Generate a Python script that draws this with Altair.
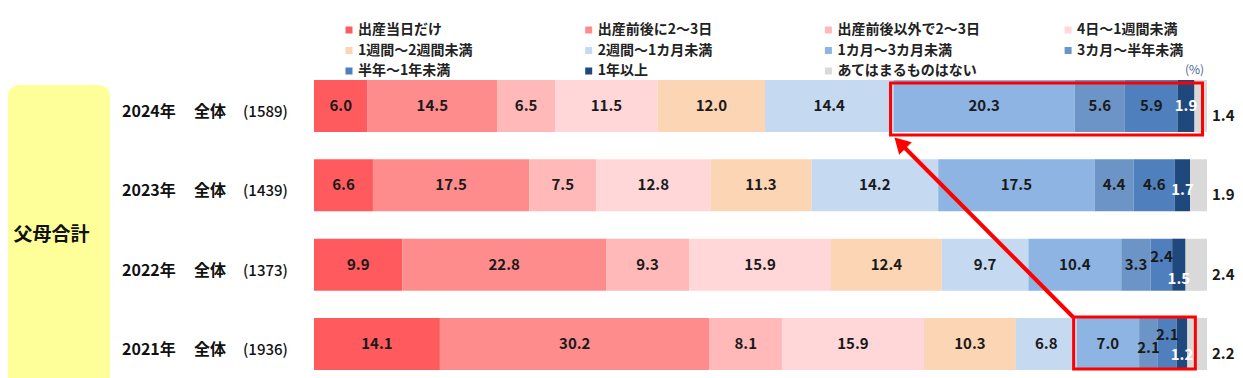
import altair as alt
import pandas as pd

# ---------------- data ----------------
categories = ["出産当日だけ", "出産前後に2～3日", "出産前後以外で2～3日", "4日～1週間未満",
              "1週間～2週間未満", "2週間～1カ月未満", "1カ月～3カ月未満", "3カ月～半年未満",
              "半年～1年未満", "1年以上", "あてはまるものはない"]
colors = ["#FF5B5E", "#FF8C8C", "#FFB9B9", "#FFD7D9", "#FCD5B4", "#C5D9F1",
          "#8DB4E2", "#6C94C6", "#4F7FBD", "#1F487C", "#D9D9D9"]
years = ["2024年", "2023年", "2022年", "2021年"]
sample_n = [1589, 1439, 1373, 1936]
v2024 = [6.0, 14.5, 6.5, 11.5, 12.0, 14.4, 20.3, 5.6, 5.9, 1.9, 1.4]
v2023 = [6.6, 17.5, 7.5, 12.8, 11.3, 14.2, 17.5, 4.4, 4.6, 1.7, 1.9]
v2022 = [9.9, 22.8, 9.3, 15.9, 12.4, 9.7, 10.4, 3.3, 2.4, 1.5, 2.4]
v2021 = [14.1, 30.2, 8.1, 15.9, 10.3, 6.8, 7.0, 2.1, 2.1, 1.2, 2.2]
group_label = "父母合計"
total_label = "全体"
unit_label = "(%)"

values = {"2024年": v2024, "2023年": v2023, "2022年": v2022, "2021年": v2021}

FONT = "Noto Sans CJK JP"
W, H = 1227, 370
X0, PPU = 306.0, 8.93          # plot px of 0 %, px per %
A = -X0 / PPU
B = A + W / PPU


def to_data(px):
    return A + px / PPU


# label vertical nudges (px) for crowded small segments
nudge = {("2023年", "1年以上"): 5, ("2022年", "半年～1年未満"): -8, ("2022年", "1年以上"): 14,
         ("2021年", "3カ月～半年未満"): 4, ("2021年", "半年～1年未満"): -9, ("2021年", "1年以上"): 11}

rows = []
for y in years:
    cum = 0.0
    for c, v in zip(categories, values[y]):
        rows.append(dict(year=y, cat=c, start=cum, end=cum + v, mid=cum + v / 2,
                         label=f"{v:.1f}", lc="#FFFFFF" if c == "1年以上" else "#1A1A1A",
                         dy=nudge.get((y, c), 0)))
        cum += v
df = pd.DataFrame(rows)

xs = alt.Scale(domain=[A, B], nice=False, zero=False)
ys = alt.Scale(domain=years, range=[58.3, 375.7], paddingInner=0.345, paddingOuter=0.1725)
Y = alt.Y("year:N", scale=ys, axis=None, sort=years)
colscale = alt.Scale(domain=categories, range=colors)

base = alt.Chart(df)

yellow = alt.Chart(pd.DataFrame({"k": [0]})).mark_rect(
    color="#FFFF99", cornerRadius=11).encode(
    x=alt.value(0), x2=alt.value(102), y=alt.value(77), y2=alt.value(420))

group_text = alt.Chart(pd.DataFrame({"t": [group_label]})).mark_text(
    font=FONT, fontSize=19, fontWeight="bold", color="#111111").encode(
    text="t:N", x=alt.value(43.5), y=alt.value(227))

bars = base.mark_bar().encode(
    x=alt.X("start:Q", scale=xs, axis=None), x2="end:Q", y=Y,
    color=alt.Color("cat:N", scale=colscale, legend=None))

inside = df[df["cat"] != "あてはまるものはない"]
label_layers = []
for d in sorted(inside["dy"].unique()):
    sub = inside[inside["dy"] == d]
    label_layers.append(alt.Chart(sub).mark_text(
        font=FONT, fontSize=15, fontWeight="bold", dy=float(d)).encode(
        x=alt.X("mid:Q", scale=xs), y=Y, text="label:N",
        color=alt.Color("lc:N", scale=None)))

outside = df[df["cat"] == "あてはまるものはない"]
out_labels = alt.Chart(outside).mark_text(
    font=FONT, fontSize=15, fontWeight="bold", align="left", dx=5, dy=10, color="#1A1A1A").encode(
    x=alt.X("end:Q", scale=xs), y=Y, text="label:N")

# row labels
rl = pd.DataFrame({"year": years, "tot": [total_label] * 4, "n": [f"({n})" for n in sample_n]})
rbase = alt.Chart(rl)
row_year = rbase.mark_text(font=FONT, fontSize=16, fontWeight="bold", align="left", dy=6,
                           color="#111111").encode(x=alt.value(114), y=Y, text="year:N")
row_tot = rbase.mark_text(font=FONT, fontSize=16, fontWeight="bold", align="left", dy=6,
                          color="#111111").encode(x=alt.value(186), y=Y, text="tot:N")
row_n = rbase.mark_text(font=FONT, fontSize=15, fontWeight=500, align="left", dy=6,
                        color="#111111").encode(x=alt.value(235), y=Y, text="n:N")

# legend
leg_rows = []
for i, c in enumerate(categories):
    col, r = i % 4, i // 4
    leg_rows.append(dict(cat=c, r=r, sx=to_data(341 + col * 239.7), tx=to_data(350 + col * 239.7)))
leg = pd.DataFrame(leg_rows)
legend_layers = []
for r, ypx in zip(range(3), [22, 42.5, 63]):
    sub = leg[leg["r"] == r]
    legend_layers.append(alt.Chart(sub).mark_square(size=49, opacity=1).encode(
        x=alt.X("sx:Q", scale=xs), y=alt.value(ypx),
        color=alt.Color("cat:N", scale=colscale, legend=None)))
    legend_layers.append(alt.Chart(sub).mark_text(
        font=FONT, fontSize=14, fontWeight="bold", align="left", color="#222222").encode(
        x=alt.X("tx:Q", scale=xs), y=alt.value(ypx), text="cat:N"))

pct = alt.Chart(pd.DataFrame({"t": [unit_label]})).mark_text(
    font=FONT, fontSize=12, align="left", color="#4A6496").encode(
    text="t:N", x=alt.value(1177), y=alt.value(62))

# highlight boxes
def box(year, yoff, y2off):
    sub = df[df["year"] == year]
    s = sub[sub["cat"] == "1カ月～3カ月未満"]["start"].iloc[0]
    e = sub[sub["cat"] == "1年以上"]["end"].iloc[0]
    return alt.Chart(pd.DataFrame({"year": [year], "s": [s], "e": [e]})).mark_rect(
        fillOpacity=0, stroke="#FF0000", strokeWidth=3,
        xOffset=-3, x2Offset=8, yOffset=yoff, y2Offset=y2off).encode(
        x=alt.X("s:Q", scale=xs), x2="e:Q", y=Y)

box24 = box("2024年", 3, 4)
box21 = box("2021年", -1, -1)

one = pd.DataFrame({"k": [0]})
arrow = alt.Chart(one).mark_rule(color="#FF0000", strokeWidth=4).encode(
    x=alt.value(1065), y=alt.value(309), x2=alt.value(896), y2=alt.value(139))
head = alt.Chart(one).mark_point(shape="triangle-up", filled=True, size=320, angle=315,
                                 color="#FF0000", opacity=1).encode(
    x=alt.value(892), y=alt.value(135))

chart = alt.layer(
    yellow, group_text, bars, *label_layers, out_labels, row_year, row_tot, row_n,
    *legend_layers, pct, box24, box21, arrow, head
).properties(
    width=W, height=H, padding=0, autosize=alt.AutoSizeParams(type="none"),
    background="#FFFFFF"
).configure_view(stroke=None)

chart.save("out.html", embed_options={"renderer": "svg", "actions": False})
